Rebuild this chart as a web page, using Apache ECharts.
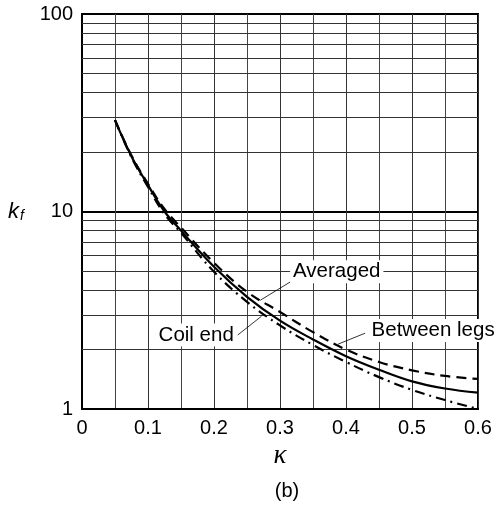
<!DOCTYPE html>
<html>
<head>
<meta charset="utf-8">
<script src="https://cdn.jsdelivr.net/npm/echarts@6/dist/echarts.min.js"></script>
<style>
  html, body { margin: 0; padding: 0; background: #fff; }
  #chart { width: 503px; height: 508px; }
</style>
</head>
<body>
<div id="chart"></div>
<script>
// 数据
const kappa = [0.05, 0.075, 0.1, 0.125, 0.15, 0.2, 0.25, 0.3, 0.35, 0.4, 0.45, 0.5, 0.55, 0.6];
const averaged = [29, 19, 13.6, 10, 8.0, 5.25, 3.7, 2.8, 2.25, 1.85, 1.58, 1.38, 1.27, 1.21];
const betweenLegs = [29, 19.2, 13.8, 10.3, 8.3, 5.5, 3.92, 3.1, 2.45, 2.0, 1.73, 1.57, 1.47, 1.42];
const coilEnd = [29, 18.8, 13.3, 9.7, 7.8, 4.95, 3.49, 2.65, 2.11, 1.73, 1.45, 1.25, 1.11, 1.0];
const minorLevels = [2, 3, 4, 5, 6, 7, 8, 9, 20, 30, 40, 50, 60, 70, 80, 90];

// 注释: 文字位置和引线 (数据坐标)
const notes = [
    { text: 'Averaged', at: [0.386, 4.95], from: [0.318, 4.45], to: [0.27, 3.55] },
    { text: 'Coil end', at: [0.173, 2.37], from: [0.236, 2.37], to: [0.272, 2.95] },
    { text: 'Between legs', at: [0.532, 2.5], from: [0.429, 2.42], to: [0.388, 2.13] }
];

const font = 'Liberation Sans, Arial, sans-serif';

function pairs(ys) {
    return kappa.map((x, i) => [x, ys[i]]);
}

const chart = echarts.init(document.getElementById('chart'));

const option = {
    animation: false,
    title: {
        text: '(b)',
        left: 282,
        top: 476,
        textAlign: 'center',
        textStyle: { fontFamily: font, fontSize: 20, fontWeight: 'normal', color: '#000' }
    },
    grid: {
        left: 82, right: 25, top: 14, bottom: 99,
        show: true, borderColor: '#000', borderWidth: 2
    },
    xAxis: {
        type: 'value',
        min: 0, max: 0.6, interval: 0.1,
        name: 'κ',
        nameLocation: 'middle',
        nameGap: 33,
        nameTextStyle: { fontFamily: 'Liberation Serif, DejaVu Serif, serif', fontStyle: 'italic', fontSize: 27, color: '#000' },
        axisLine: { show: true, lineStyle: { color: '#000', width: 2 } },
        axisTick: { show: false },
        axisLabel: {
            fontFamily: font, fontSize: 20, color: '#000', margin: 9,
            formatter: v => v === 0 ? '0' : v.toFixed(1)
        },
        splitLine: { show: true, lineStyle: { color: '#333', width: 1 } },
        minorTick: { show: false, splitNumber: 2 },
        minorSplitLine: { show: true, lineStyle: { color: '#444', width: 1 } }
    },
    yAxis: {
        type: 'log',
        logBase: 10,
        min: 1, max: 100,
        name: '{k|k}{f|f}',
        nameLocation: 'middle',
        nameRotate: 0,
        nameGap: 58,
        nameTextStyle: {
            rich: {
                k: { fontFamily: font, fontStyle: 'italic', fontSize: 22, color: '#000' },
                f: { fontFamily: font, fontStyle: 'italic', fontSize: 14, color: '#000', padding: [10, 0, 0, 1] }
            }
        },
        axisLine: { show: true, lineStyle: { color: '#000', width: 2 } },
        axisTick: { show: false },
        axisLabel: { fontFamily: font, fontSize: 20, color: '#000', margin: 9 },
        splitLine: { show: true, lineStyle: { color: '#000', width: 2 } }
    },
    series: [
        {
            name: 'grid',
            type: 'line',
            data: [],
            z: 1,
            silent: true,
            markLine: {
                silent: true,
                symbol: 'none',
                label: { show: false },
                lineStyle: { color: '#333', width: 1, type: 'solid' },
                data: minorLevels.map(v => ({ yAxis: v }))
            }
        },
        {
            name: 'Averaged',
            type: 'line',
            data: pairs(averaged),
            smooth: 0.4,
            showSymbol: false,
            z: 5,
            lineStyle: { color: '#000', width: 2.2, type: 'solid' }
        },
        {
            name: 'Between legs',
            type: 'line',
            data: pairs(betweenLegs),
            smooth: 0.4,
            showSymbol: false,
            z: 5,
            lineStyle: { color: '#000', width: 2.2, type: [10, 6] }
        },
        {
            name: 'Coil end',
            type: 'line',
            data: pairs(coilEnd),
            smooth: 0.4,
            showSymbol: false,
            z: 5,
            lineStyle: { color: '#000', width: 2.2, type: [10, 5, 2, 5] }
        }
    ]
};

chart.setOption(option);

// 注释文字和引线
function drawNotes() {
    const elements = [];
    notes.forEach(n => {
        const p = chart.convertToPixel({ gridIndex: 0 }, n.at);
        const a = chart.convertToPixel({ gridIndex: 0 }, n.from);
        const b = chart.convertToPixel({ gridIndex: 0 }, n.to);
        elements.push({
            type: 'line',
            z: 50,
            silent: true,
            shape: { x1: a[0], y1: a[1], x2: b[0], y2: b[1] },
            style: { stroke: '#000', lineWidth: 0.8 }
        });
        elements.push({
            type: 'text',
            z: 60,
            silent: true,
            x: p[0],
            y: p[1],
            style: {
                text: n.text,
                fontFamily: font,
                fontSize: 20.5,
                fill: '#000',
                align: 'center',
                verticalAlign: 'middle',
                backgroundColor: '#fff',
                padding: [1, 3]
            }
        });
    });
    chart.setOption({ graphic: { elements: elements } });
}

drawNotes();
</script>
</body>
</html>
